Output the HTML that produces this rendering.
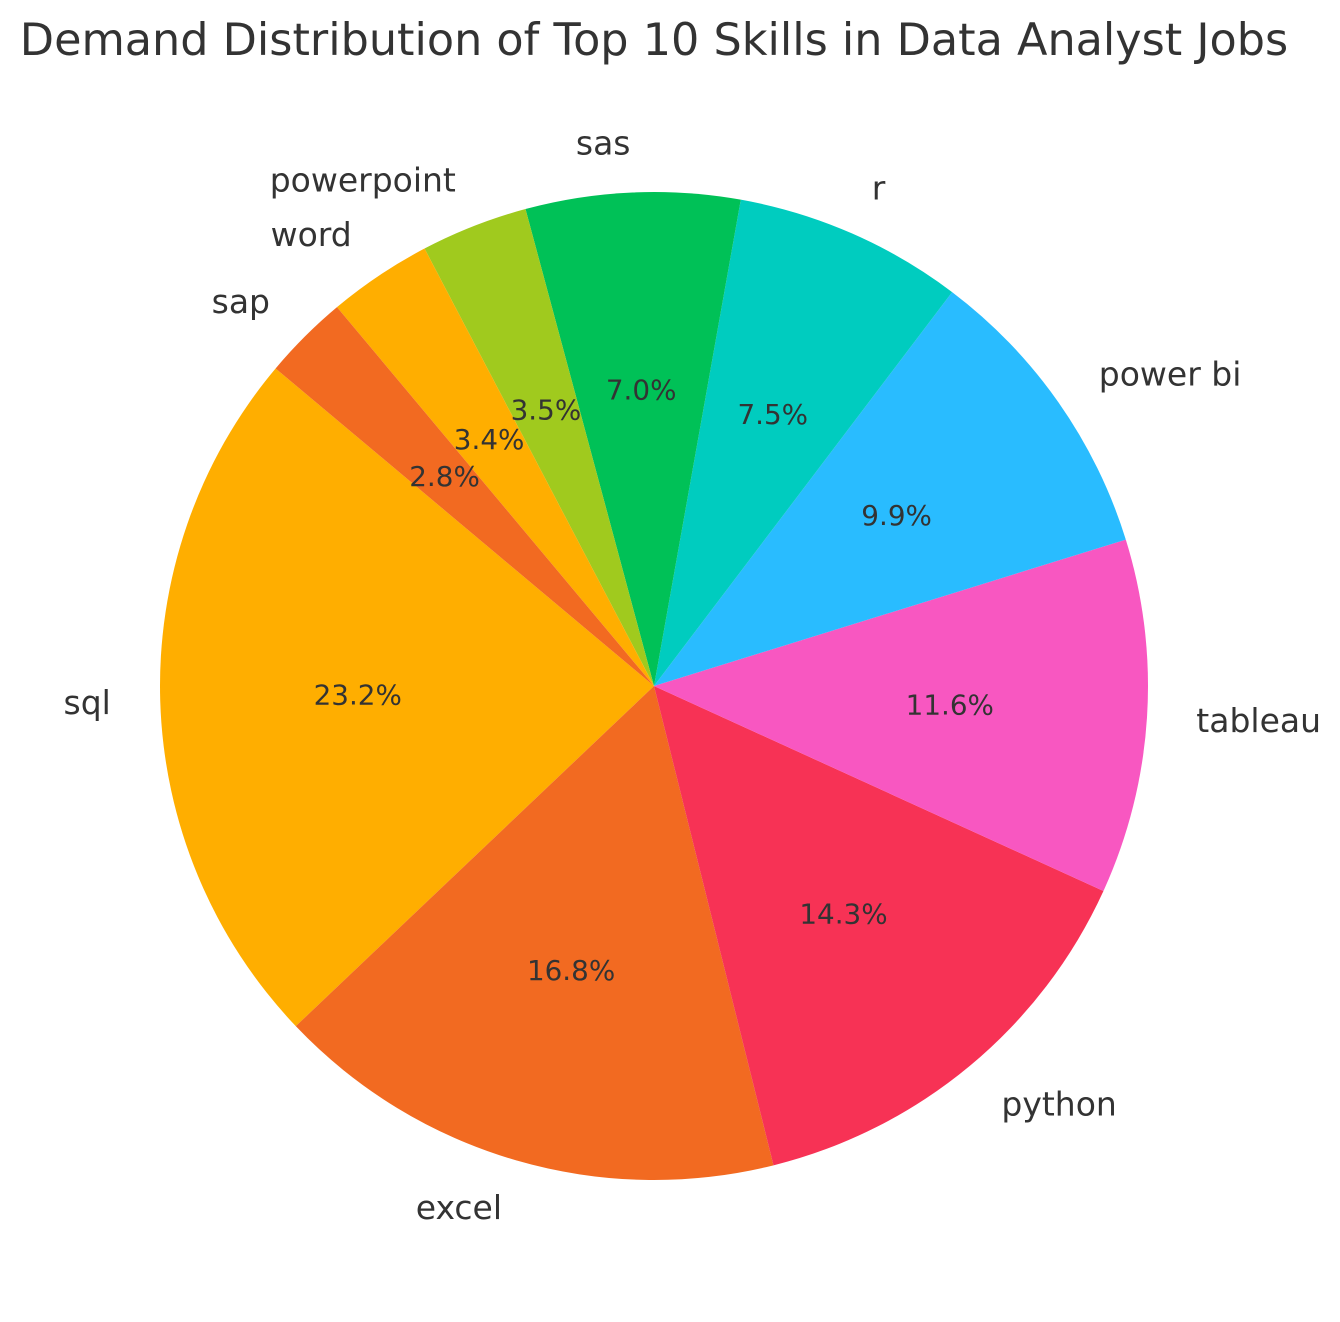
<!DOCTYPE html>
<html><head><meta charset="utf-8">
<style>
html,body{margin:0;padding:0;background:#fff;}
svg{display:block;font-family:"DejaVu Sans","Liberation Sans",sans-serif;}
</style></head>
<body>
<svg id="chart" width="1340" height="1322" viewBox="0 0 1340 1322" xmlns="http://www.w3.org/2000/svg">
<text x="654" y="55" text-anchor="middle" font-size="44.5" fill="#333">Demand Distribution of Top 10 Skills in Data Analyst Jobs</text>
<g id="slices"></g>
<g id="labels"></g>
</svg>
<script>
const categories = ["sql","excel","python","tableau","power bi","r","sas","powerpoint","word","sap"];
const shares = [23.2,16.8,14.3,11.6,9.9,7.5,7.0,3.5,3.4,2.8];
const colors = ["#FFAE00","#F26A21","#F73255","#F857C1","#29BCFF","#00CCBF","#00C157","#A0CA1E","#FFAE00","#F26A21"];
const cx=654, cy=686, R=494, startAngle=140;
const NS="http://www.w3.org/2000/svg";
const gS=document.getElementById('slices'), gL=document.getElementById('labels');
const total=shares.reduce((a,b)=>a+b,0);
function pt(a,r){const t=a*Math.PI/180;return [cx+r*Math.cos(t), cy-r*Math.sin(t)];}
let a0=startAngle;
shares.forEach((v,i)=>{
  const span=v/total*360, a1=a0+span;
  const p0=pt(a0,R), p1=pt(a1,R);
  const path=document.createElementNS(NS,'path');
  path.setAttribute('d',`M${cx},${cy} L${p0[0]},${p0[1]} A${R},${R} 0 ${span>180?1:0} 0 ${p1[0]},${p1[1]} Z`);
  path.setAttribute('fill',colors[i]);
  
  
  gS.appendChild(path);
  const mid=(a0+a1)/2;
  const lp=pt(mid,R*1.1);
  const t=document.createElementNS(NS,'text');
  t.setAttribute('x',lp[0]);t.setAttribute('y',lp[1]);
  t.setAttribute('text-anchor',Math.cos(mid*Math.PI/180)>=0?'start':'end');
  t.setAttribute('dominant-baseline','central');
  t.setAttribute('font-size','33');t.setAttribute('fill','#333');
  t.textContent=categories[i];
  
  
  gL.appendChild(t);
  const pp=pt(mid,R*0.6);
  const p=document.createElementNS(NS,'text');
  p.setAttribute('x',pp[0]);p.setAttribute('y',pp[1]);
  p.setAttribute('text-anchor','middle');p.setAttribute('dominant-baseline','central');
  p.setAttribute('font-size','27.8');p.setAttribute('fill','#333');
  p.textContent=v.toFixed(1)+'%';
  
  
  gL.appendChild(p);
  a0=a1;
});
</script>
</body></html>
